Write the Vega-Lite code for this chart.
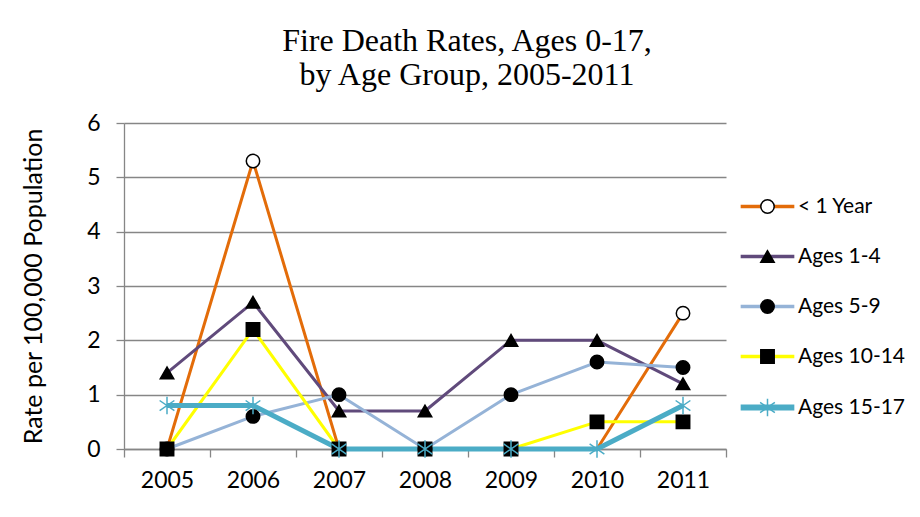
{
  "$schema": "https://vega.github.io/schema/vega-lite/v6.json",
  "width": 602,
  "height": 326,
  "autosize": {"type": "none"},
  "padding": {"left": 124, "top": 123, "right": 194, "bottom": 68},
  "background": "white",
  "title": {
    "text": ["Fire Death Rates, Ages 0-17,", "by Age Group, 2005-2011"],
    "font": "Liberation Serif",
    "fontSize": 32,
    "fontWeight": "normal",
    "color": "#000000",
    "anchor": "middle",
    "dx": 42,
    "offset": 20,
    "lineHeight": 34
  },
  "data": {
    "values": [
      {"year": "2005", "series": "< 1 Year", "rate": 0},
      {"year": "2006", "series": "< 1 Year", "rate": 5.3},
      {"year": "2007", "series": "< 1 Year", "rate": 0},
      {"year": "2008", "series": "< 1 Year", "rate": 0},
      {"year": "2009", "series": "< 1 Year", "rate": 0},
      {"year": "2010", "series": "< 1 Year", "rate": 0},
      {"year": "2011", "series": "< 1 Year", "rate": 2.5},
      {"year": "2005", "series": "Ages 1-4", "rate": 1.4},
      {"year": "2006", "series": "Ages 1-4", "rate": 2.7},
      {"year": "2007", "series": "Ages 1-4", "rate": 0.7},
      {"year": "2008", "series": "Ages 1-4", "rate": 0.7},
      {"year": "2009", "series": "Ages 1-4", "rate": 2.0},
      {"year": "2010", "series": "Ages 1-4", "rate": 2.0},
      {"year": "2011", "series": "Ages 1-4", "rate": 1.2},
      {"year": "2005", "series": "Ages 5-9", "rate": 0},
      {"year": "2006", "series": "Ages 5-9", "rate": 0.6},
      {"year": "2007", "series": "Ages 5-9", "rate": 1.0},
      {"year": "2008", "series": "Ages 5-9", "rate": 0},
      {"year": "2009", "series": "Ages 5-9", "rate": 1.0},
      {"year": "2010", "series": "Ages 5-9", "rate": 1.6},
      {"year": "2011", "series": "Ages 5-9", "rate": 1.5},
      {"year": "2005", "series": "Ages 10-14", "rate": 0},
      {"year": "2006", "series": "Ages 10-14", "rate": 2.2},
      {"year": "2007", "series": "Ages 10-14", "rate": 0},
      {"year": "2008", "series": "Ages 10-14", "rate": 0},
      {"year": "2009", "series": "Ages 10-14", "rate": 0},
      {"year": "2010", "series": "Ages 10-14", "rate": 0.5},
      {"year": "2011", "series": "Ages 10-14", "rate": 0.5},
      {"year": "2005", "series": "Ages 15-17", "rate": 0.8},
      {"year": "2006", "series": "Ages 15-17", "rate": 0.8},
      {"year": "2007", "series": "Ages 15-17", "rate": 0},
      {"year": "2008", "series": "Ages 15-17", "rate": 0},
      {"year": "2009", "series": "Ages 15-17", "rate": 0},
      {"year": "2010", "series": "Ages 15-17", "rate": 0},
      {"year": "2011", "series": "Ages 15-17", "rate": 0.8}
    ]
  },
  "encoding": {
    "x": {
      "field": "year",
      "type": "ordinal",
      "bandPosition": 0.5,
      "scale": {"type": "band", "paddingInner": 0, "paddingOuter": 0},
      "axis": {
        "title": null,
        "labelAngle": 0,
        "tickBand": "extent",
        "domainColor": "#868686",
        "domainWidth": 1.3,
        "tickColor": "#868686",
        "tickWidth": 1.3,
        "tickSize": 8,
        "labelPadding": 12,
        "labelFont": "Lato",
        "labelFontSize": 23,
        "labelColor": "#000000",
        "grid": false
      }
    },
    "y": {
      "field": "rate",
      "type": "quantitative",
      "scale": {"domain": [0, 6], "nice": false, "zero": true},
      "axis": {
        "title": "Rate per 100,000 Population",
        "titleFont": "Lato",
        "titleFontSize": 25,
        "titleFontWeight": "normal",
        "titleColor": "#000000",
        "titleX": -91,
        "titleBaseline": "middle",
        "values": [0, 1, 2, 3, 4, 5, 6],
        "domainColor": "#868686",
        "domainWidth": 1.3,
        "tickColor": "#868686",
        "tickWidth": 1.3,
        "tickSize": 8,
        "labelPadding": 16,
        "labelFont": "Lato",
        "labelFontSize": 23,
        "labelColor": "#000000",
        "grid": true,
        "gridColor": "#868686",
        "gridWidth": 1.3
      }
    },
    "color": {
      "field": "series",
      "type": "nominal",
      "scale": {
        "domain": ["< 1 Year", "Ages 1-4", "Ages 5-9", "Ages 10-14", "Ages 15-17"],
        "range": ["#E36C09", "#604A7B", "#95B3D7", "#FFFF00", "#4BACC6"]
      },
      "legend": {
        "title": null,
        "orient": "none",
        "legendX": 633,
        "legendY": 73,
        "padding": 0,
        "symbolType": "M-4,0L4,0",
        "symbolSize": 180,
        "symbolStrokeWidth": 3.5,
        "labelOffset": 20,
        "rowPadding": 28,
        "labelFont": "Lato",
        "labelFontSize": 21,
        "labelColor": "#000000",
        "symbolOpacity": 1,
        "encode": {
          "symbols": {
            "update": {
              "strokeWidth": {"signal": "datum.value === 'Ages 15-17' ? 6 : 3.5"},
              "fill": {"value": "transparent"}
            }
          }
        }
      }
    }
  },
  "layer": [
    {
      "transform": [{"filter": "datum.series !== 'Ages 15-17'"}],
      "mark": {"type": "line", "strokeWidth": 3, "strokeJoin": "round"}
    },
    {
      "transform": [{"filter": "datum.series === 'Ages 15-17'"}],
      "mark": {"type": "line", "strokeWidth": 5, "strokeJoin": "round"}
    },
    {
      "transform": [{"filter": "!(datum.series === '< 1 Year' && datum.rate === 0)"}],
      "mark": {"type": "point", "opacity": 1, "size": 180, "strokeWidth": 1.5},
      "encoding": {
        "color": {"value": null},
        "shape": {
          "field": "series",
          "type": "nominal",
          "sort": ["< 1 Year", "Ages 1-4", "Ages 5-9", "Ages 10-14", "Ages 15-17"],
          "scale": {
            "range": ["circle", "triangle-up", "circle", "square", "M0,-1.3L0,1.3M-1.1,-0.75L1.1,0.75M-1.1,0.75L1.1,-0.75"]
          },
          "legend": {
            "title": null,
            "orient": "none",
            "legendX": 633,
            "legendY": 73,
            "padding": 0,
            "symbolSize": 180,
            "symbolStrokeWidth": 1.5,
            "symbolFillColor": {"expr": "datum.value === '< 1 Year' ? '#ffffff' : (datum.value === 'Ages 15-17' ? 'transparent' : '#000000')"},
            "symbolStrokeColor": {"expr": "datum.value === 'Ages 15-17' ? '#4BACC6' : '#000000'"},
            "labelOffset": 20,
            "rowPadding": 28,
            "labelFont": "Lato",
            "labelFontSize": 21,
            "labelColor": "#000000",
            "labelOpacity": 0,
            "symbolOpacity": 1
          }
        },
        "fill": {
          "field": "series",
          "type": "nominal",
          "sort": ["< 1 Year", "Ages 1-4", "Ages 5-9", "Ages 10-14", "Ages 15-17"],
          "scale": {"range": ["#ffffff", "#000000", "#000000", "#000000", "transparent"]},
          "legend": null
        },
        "stroke": {
          "field": "series",
          "type": "nominal",
          "sort": ["< 1 Year", "Ages 1-4", "Ages 5-9", "Ages 10-14", "Ages 15-17"],
          "scale": {"range": ["#000000", "#000000", "#000000", "#000000", "#4BACC6"]},
          "legend": null
        }
      }
    }
  ],
  "config": {
    "view": {"stroke": null},
    "font": "Lato"
  }
}
